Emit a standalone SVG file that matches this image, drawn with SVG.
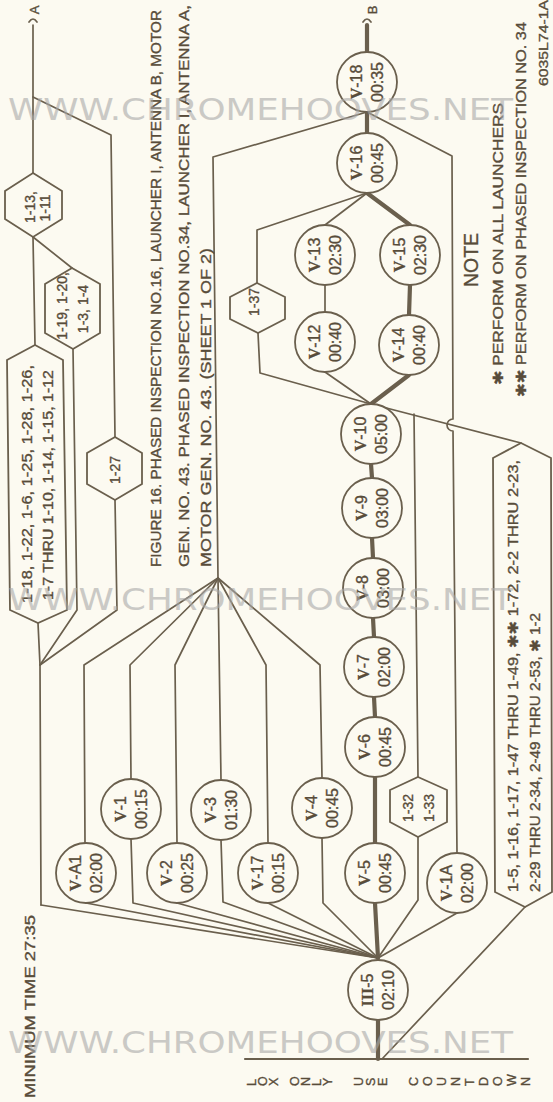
<svg xmlns="http://www.w3.org/2000/svg" width="553" height="1102" viewBox="0 0 553 1102">
<defs>
<style>
.bg{fill:#fcfaf1}
.c line,.c polyline,.c path{fill:none;stroke:#6a5f4d;stroke-width:1.7;stroke-linejoin:round;stroke-linecap:round}
.c .t{stroke-width:4.2}
.n circle,.n polygon{fill:#fcfaf1;stroke:#6a5f4d;stroke-width:1.8}
text{font-family:"Liberation Sans","DejaVu Sans",sans-serif;fill:#584c3a;stroke:#584c3a;stroke-width:0.35}
.nt{font-size:16px;text-anchor:middle}
.rn{font-family:"Liberation Serif","DejaVu Serif",serif;font-weight:bold}
.ht{font-size:14px;text-anchor:middle}
.hs{font-size:14px}
.cap{font-size:15px}
.note{font-size:14px}
.wm{font-family:"DejaVu Sans",sans-serif;font-size:30px;fill:#a9a9a9;stroke:none;opacity:.6}
</style>
</defs>
<rect class="bg" x="0" y="0" width="553" height="1102"/>

<g id="connectors" class="c">
  <!-- critical (thick) path -->
  <line class="t" x1="378" y1="1059" x2="378" y2="1020"/>
  <line class="t" x1="375" y1="903" x2="378" y2="958"/>
  <line class="t" x1="375" y1="843" x2="375" y2="777"/>
  <line class="t" x1="375" y1="717" x2="374" y2="697"/>
  <line class="t" x1="374" y1="637" x2="373" y2="618"/>
  <line class="t" x1="373" y1="558" x2="372" y2="538"/>
  <line class="t" x1="372" y1="478" x2="371" y2="464"/>
  <line class="t" x1="371" y1="404" x2="409" y2="375"/>
  <line class="t" x1="409" y1="315" x2="410" y2="285"/>
  <line class="t" x1="410" y1="225" x2="367" y2="193"/>
  <line class="t" x1="367" y1="133" x2="367" y2="112"/>
  <line class="t" x1="367" y1="52" x2="367" y2="25"/>
  <!-- upper right network -->
  <line x1="371" y1="404" x2="325" y2="372"/>
  <line x1="325" y1="312" x2="325" y2="285"/>
  <line x1="325" y1="225" x2="367" y2="193"/>
  <polyline points="521,443 371,404 260,373 258,333"/>
  <polyline points="257,283 257,230 367,193"/>
  <polyline points="218,578 213,157 367,112"/>
  <path d="M367,112 L452,156 L453,419 A6,6 0 0 0 453,431 L457,853"/>
  <line x1="414" y1="414" x2="418" y2="777"/>
  <polyline points="418,837 418,900 378,958"/>
  <line x1="457" y1="913" x2="378" y2="958"/>
  <line x1="382" y1="1059" x2="525" y2="907"/>
  <line x1="245" y1="1059" x2="528" y2="1059" style="stroke-width:2.2"/>
  <!-- lower fan -->
  <line x1="41" y1="905" x2="378" y2="958"/>
  <line x1="86" y1="903" x2="378" y2="958"/>
  <polyline points="131,839 133,903 378,958"/>
  <line x1="177" y1="903" x2="378" y2="958"/>
  <polyline points="221,840 223,902 378,958"/>
  <line x1="268" y1="903" x2="378" y2="958"/>
  <polyline points="322,838 323,903 378,958"/>
  <!-- upper fan -->
  <polyline points="218,578 84,665 85,843"/>
  <polyline points="218,578 130,665 131,779"/>
  <polyline points="218,578 175,665 177,843"/>
  <line x1="218" y1="578" x2="221" y2="780"/>
  <polyline points="218,578 266,665 268,843"/>
  <polyline points="218,578 320,665 322,778"/>
  <!-- left branch -->
  <polyline points="38,623 40,665 41,905"/>
  <polyline points="40,665 77,610 73,349"/>
  <polyline points="40,665 117,610 115,500"/>
  <line x1="33" y1="25" x2="33" y2="173"/>
  <polyline points="33,97 111,135 115,437"/>
  <line x1="33" y1="237" x2="35" y2="345"/>
  <line x1="33" y1="237" x2="72" y2="268"/>
  <!-- off-sheet marks -->
  <path d="M29,22 Q33,16 37,22"/>
  <path d="M363,22 Q367,16 371,22"/>
</g>

<g id="node-A" class="lbl"><text class="ht" transform="translate(39,10) rotate(-90)" style="font-size:13px">A</text></g>
<g id="node-B" class="lbl"><text class="ht" transform="translate(377,10) rotate(-90)" style="font-size:13px">B</text></g>

<!-- circle nodes -->
<g id="node-V-A1" class="n" transform="translate(86,873)"><circle r="30"/><text class="nt" transform="rotate(-90)"><tspan x="0" y="-5"><tspan class="rn">V</tspan>-A1</tspan><tspan x="0" y="16">02:00</tspan></text></g>
<g id="node-V-1" class="n" transform="translate(131,809)"><circle r="30"/><text class="nt" transform="rotate(-90)"><tspan x="0" y="-5"><tspan class="rn">V</tspan>-1</tspan><tspan x="0" y="16">00:15</tspan></text></g>
<g id="node-V-2" class="n" transform="translate(177,873)"><circle r="30"/><text class="nt" transform="rotate(-90)"><tspan x="0" y="-5"><tspan class="rn">V</tspan>-2</tspan><tspan x="0" y="16">00:25</tspan></text></g>
<g id="node-V-3" class="n" transform="translate(221,810)"><circle r="30"/><text class="nt" transform="rotate(-90)"><tspan x="0" y="-5"><tspan class="rn">V</tspan>-3</tspan><tspan x="0" y="16">01:30</tspan></text></g>
<g id="node-V-17" class="n" transform="translate(268,873)"><circle r="30"/><text class="nt" transform="rotate(-90)"><tspan x="0" y="-5"><tspan class="rn">V</tspan>-17</tspan><tspan x="0" y="16">00:15</tspan></text></g>
<g id="node-V-4" class="n" transform="translate(322,808)"><circle r="30"/><text class="nt" transform="rotate(-90)"><tspan x="0" y="-5"><tspan class="rn">V</tspan>-4</tspan><tspan x="0" y="16">00:45</tspan></text></g>
<g id="node-V-5" class="n" transform="translate(375,873)"><circle r="30"/><text class="nt" transform="rotate(-90)"><tspan x="0" y="-5"><tspan class="rn">V</tspan>-5</tspan><tspan x="0" y="16">00:45</tspan></text></g>
<g id="node-V-1A" class="n" transform="translate(457,883)"><circle r="30"/><text class="nt" transform="rotate(-90)"><tspan x="0" y="-5"><tspan class="rn">V</tspan>-1A</tspan><tspan x="0" y="16">02:00</tspan></text></g>
<g id="node-III-5" class="n" transform="translate(378,990)"><circle r="30"/><text class="nt" transform="rotate(-90)"><tspan x="0" y="-5"><tspan class="rn">III</tspan>-5</tspan><tspan x="0" y="16">02:10</tspan></text></g>
<g id="node-V-6" class="n" transform="translate(375,747)"><circle r="30"/><text class="nt" transform="rotate(-90)"><tspan x="0" y="-5"><tspan class="rn">V</tspan>-6</tspan><tspan x="0" y="16">00:45</tspan></text></g>
<g id="node-V-7" class="n" transform="translate(374,667)"><circle r="30"/><text class="nt" transform="rotate(-90)"><tspan x="0" y="-5"><tspan class="rn">V</tspan>-7</tspan><tspan x="0" y="16">02:00</tspan></text></g>
<g id="node-V-8" class="n" transform="translate(373,588)"><circle r="30"/><text class="nt" transform="rotate(-90)"><tspan x="0" y="-5"><tspan class="rn">V</tspan>-8</tspan><tspan x="0" y="16">03:00</tspan></text></g>
<g id="node-V-9" class="n" transform="translate(372,508)"><circle r="30"/><text class="nt" transform="rotate(-90)"><tspan x="0" y="-5"><tspan class="rn">V</tspan>-9</tspan><tspan x="0" y="16">03:00</tspan></text></g>
<g id="node-V-10" class="n" transform="translate(371,434)"><circle r="30"/><text class="nt" transform="rotate(-90)"><tspan x="0" y="-5"><tspan class="rn">V</tspan>-10</tspan><tspan x="0" y="16">05:00</tspan></text></g>
<g id="node-V-12" class="n" transform="translate(325,342)"><circle r="30"/><text class="nt" transform="rotate(-90)"><tspan x="0" y="-5"><tspan class="rn">V</tspan>-12</tspan><tspan x="0" y="16">00:40</tspan></text></g>
<g id="node-V-13" class="n" transform="translate(325,255)"><circle r="30"/><text class="nt" transform="rotate(-90)"><tspan x="0" y="-5"><tspan class="rn">V</tspan>-13</tspan><tspan x="0" y="16">02:30</tspan></text></g>
<g id="node-V-14" class="n" transform="translate(409,345)"><circle r="30"/><text class="nt" transform="rotate(-90)"><tspan x="0" y="-5"><tspan class="rn">V</tspan>-14</tspan><tspan x="0" y="16">00:40</tspan></text></g>
<g id="node-V-15" class="n" transform="translate(410,255)"><circle r="30"/><text class="nt" transform="rotate(-90)"><tspan x="0" y="-5"><tspan class="rn">V</tspan>-15</tspan><tspan x="0" y="16">02:30</tspan></text></g>
<g id="node-V-16" class="n" transform="translate(367,163)"><circle r="30"/><text class="nt" transform="rotate(-90)"><tspan x="0" y="-5"><tspan class="rn">V</tspan>-16</tspan><tspan x="0" y="16">00:45</tspan></text></g>
<g id="node-V-18" class="n" transform="translate(367,82)"><circle r="30"/><text class="nt" transform="rotate(-90)"><tspan x="0" y="-5"><tspan class="rn">V</tspan>-18</tspan><tspan x="0" y="16">00:35</tspan></text></g>

<!-- hexagon nodes -->
<g id="node-1-13" class="n"><polygon points="33,173 62,191 62,219 33,237 5,219 5,191"/>
  <text class="ht" transform="translate(35,207) rotate(-90)">1-13,</text>
  <text class="ht" transform="translate(50,208) rotate(-90)">1-11</text></g>
<g id="node-1-19" class="n"><polygon points="72,268 100,284 100,333 73,349 45,333 45,284"/>
  <text class="ht" transform="translate(67,306) rotate(-90)">1-19, 1-20,</text>
  <text class="ht" transform="translate(88,309) rotate(-90)">1-3, 1-4</text></g>
<g id="node-1-18" class="n"><polygon points="35,345 63,360 67,610 38,623 10,610 7,360"/>
  <text class="ht" transform="translate(32,484) rotate(-90)" textLength="238" lengthAdjust="spacingAndGlyphs">1-18, 1-22, 1-6, 1-25, 1-28, 1-26,</text>
  <text class="ht" transform="translate(53,485) rotate(-90)" textLength="230" lengthAdjust="spacingAndGlyphs">1-7 THRU 1-10, 1-14, 1-15, 1-12</text></g>
<g id="node-1-27" class="n"><polygon points="115,437 142,453 142,484 115,500 87,484 87,453"/>
  <text class="ht" transform="translate(120,470) rotate(-90)">1-27</text></g>
<g id="node-1-37" class="n"><polygon points="257,283 285,297 285,319 258,333 230,319 230,297"/>
  <text class="ht" transform="translate(259,302) rotate(-90)">1-37</text></g>
<g id="node-1-32" class="n"><polygon points="418,777 447,790 447,822 418,837 390,822 390,790"/>
  <text class="ht" transform="translate(413,808) rotate(-90)">1-32</text>
  <text class="ht" transform="translate(434,808) rotate(-90)">1-33</text></g>
<g id="node-1-5" class="n"><polygon points="521,443 551,458 552,892 525,907 495,892 493,458"/>
  <text class="hs" transform="translate(518,892) rotate(-90)" textLength="432" lengthAdjust="spacingAndGlyphs">1-5, 1-16, 1-17, 1-47 THRU 1-49, ✱✱ 1-72, 2-2 THRU 2-23,</text>
  <text class="hs" transform="translate(540,892) rotate(-90)" textLength="279" lengthAdjust="spacingAndGlyphs">2-29 THRU 2-34, 2-49 THRU 2-53, ✱ 1-2</text></g>

<!-- captions and notes -->
<g id="caption">
  <text class="cap" transform="translate(161,567) rotate(-90)" textLength="557" lengthAdjust="spacingAndGlyphs">FIGURE 16. PHASED INSPECTION NO.16, LAUNCHER I, ANTENNA B, MOTOR</text>
  <text class="cap" transform="translate(189,567) rotate(-90)" textLength="562" lengthAdjust="spacingAndGlyphs">GEN. NO. 43.  PHASED INSPECTION NO.34, LAUNCHER I, ANTENNA A,</text>
  <text class="cap" transform="translate(211,567) rotate(-90)" textLength="319" lengthAdjust="spacingAndGlyphs">MOTOR GEN. NO. 43.  (SHEET 1 OF 2)</text>
</g>
<g id="notes">
  <text transform="translate(478,287) rotate(-90)" style="font-size:20px" textLength="54" lengthAdjust="spacingAndGlyphs">NOTE</text>
  <text class="note" transform="translate(503,385) rotate(-90)" textLength="282" lengthAdjust="spacingAndGlyphs">✱ PERFORM ON ALL LAUNCHERS</text>
  <text class="note" transform="translate(526,397) rotate(-90)" textLength="375" lengthAdjust="spacingAndGlyphs">✱✱ PERFORM ON PHASED INSPECTION NO. 34</text>
  <text transform="translate(548,86) rotate(-90)" style="font-size:13px" textLength="86" lengthAdjust="spacingAndGlyphs">6035L74-1A</text>
  <text transform="translate(35,1098) rotate(-90)" style="font-size:14px" textLength="183" lengthAdjust="spacingAndGlyphs">MINIMUM TIME 27:35</text>
  <text style="font-size:12.5px" x="256 267 278 287 299 310 321 332 345 363 375 387 400 418 432 446 460 474 488 502 516 530" y="1086" rotate="-90">LOX ONLY USE COUNTDOWN</text>
</g>

<g id="watermark">
  <text class="wm" x="8" y="120" textLength="505" lengthAdjust="spacingAndGlyphs">WWW.CHROMEHOOVES.NET</text>
  <text class="wm" x="8" y="610" textLength="505" lengthAdjust="spacingAndGlyphs">WWW.CHROMEHOOVES.NET</text>
  <text class="wm" x="8" y="1053" textLength="505" lengthAdjust="spacingAndGlyphs">WWW.CHROMEHOOVES.NET</text>
</g>
</svg>
